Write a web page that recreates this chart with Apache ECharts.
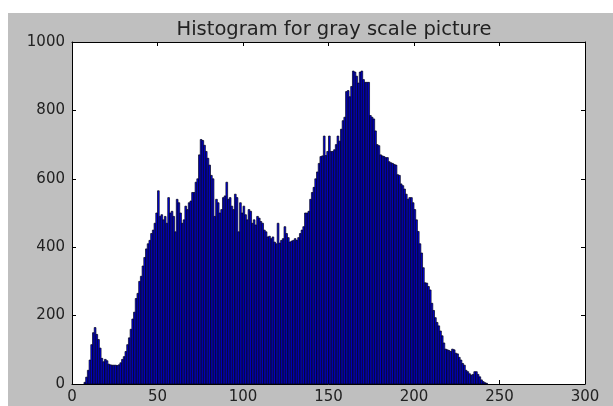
<!DOCTYPE html>
<html>
<head>
<meta charset="utf-8">
<script src="https://cdn.jsdelivr.net/npm/echarts@6/dist/echarts.min.js"></script>
<style>
  html, body { margin: 0; padding: 0; background: #fff; }
  #chart { width: 613px; height: 406px; }
</style>
</head>
<body>
<div id="chart"></div>
<script>
// Histogram counts for gray levels 0..255 (one bin per level)
const counts = [
  0, 0, 0, 0, 0, 0, 0, 5, 20, 40,
  70, 115, 150, 165, 145, 130, 105, 75, 65, 72,
  68, 58, 56, 55, 55, 55, 54, 56, 62, 72,
  80, 95, 115, 135, 160, 190, 210, 250, 265, 300,
  315, 345, 370, 395, 410, 420, 440, 450, 470, 500,
  565, 490, 495, 480, 490, 470, 545, 500, 505, 490,
  445, 540, 530, 500, 470, 480, 520, 510, 530, 535,
  560, 560, 590, 600, 670, 715, 712, 698, 680, 660,
  640, 610, 600, 490, 540, 530, 500, 510, 545, 550,
  590, 540, 545, 520, 510, 555, 545, 445, 530, 500,
  520, 495, 480, 510, 505, 470, 480, 465, 490, 485,
  475, 470, 450, 445, 430, 432, 425, 430, 415, 410,
  470, 412, 420, 425, 460, 440, 428, 415, 418, 420,
  425, 420, 428, 440, 450, 460, 500, 500, 505, 540,
  560, 575, 600, 620, 645, 665, 667, 725, 668, 680,
  725, 680, 680, 685, 700, 725, 710, 745, 770, 780,
  855, 858, 840, 870, 915, 912, 900, 880, 912, 915,
  890, 882, 882, 882, 785, 780, 775, 740, 700, 697,
  670, 667, 665, 662, 662, 650, 647, 645, 642, 640,
  612, 610, 585, 580, 570, 555, 540, 545, 545, 530,
  510, 480, 446, 410, 383, 340, 296, 295, 285, 275,
  236, 215, 194, 180, 170, 155, 141, 120, 102, 100,
  98, 95, 102, 100, 90, 88, 78, 70, 60, 55,
  40, 36, 30, 26, 28, 36, 36, 28, 21, 12,
  7, 4, 2, 0, 0, 0, 0, 0, 0, 0,
  0, 0, 0, 0, 0, 0
];
const binStart = counts.map((_, i) => i);
const xTicks = [0, 50, 100, 150, 200, 250, 300];
const yTicks = [0, 200, 400, 600, 800, 1000];
const titleText = 'Histogram for gray scale picture';

const chart = echarts.init(document.getElementById('chart'), null, { renderer: 'canvas' });

const axisCommon = {
  type: 'value',
  axisLine: { show: true, onZero: false, lineStyle: { color: '#000', width: 1 } },
  axisTick: { show: true, inside: true, length: 4, lineStyle: { color: '#000', width: 1 } },
  splitLine: { show: false },
  axisLabel: { color: '#222', fontFamily: 'DejaVu Sans', fontSize: 15, formatter: v => String(v) }
};

const option = {
  backgroundColor: '#fff',
  animation: false,
  graphic: [{
    type: 'rect', z: -100, silent: true,
    shape: { x: 8, y: 13, width: 605, height: 393 },
    style: { fill: '#bfbfbf' }
  }],
  title: {
    text: titleText,
    left: 329, top: 15, textAlign: 'center',
    textStyle: { fontFamily: 'DejaVu Sans', fontSize: 19.5, fontWeight: 'normal', color: '#222' }
  },
  grid: { left: 72, right: 28, top: 42, bottom: 22, show: true, backgroundColor: '#fff', borderWidth: 0 },
  xAxis: [
    Object.assign({}, axisCommon, {
      position: 'bottom', min: xTicks[0], max: xTicks[xTicks.length - 1], interval: 50,
      axisLabel: Object.assign({}, axisCommon.axisLabel, { margin: 6 })
    }),
    Object.assign({}, axisCommon, {
      position: 'top', min: xTicks[0], max: xTicks[xTicks.length - 1], interval: 50,
      axisLabel: { show: false }
    })
  ],
  yAxis: [
    Object.assign({}, axisCommon, {
      position: 'left', min: yTicks[0], max: yTicks[yTicks.length - 1], interval: 200,
      axisLabel: Object.assign({}, axisCommon.axisLabel, { margin: 7 })
    }),
    Object.assign({}, axisCommon, {
      position: 'right', min: yTicks[0], max: yTicks[yTicks.length - 1], interval: 200,
      axisLabel: { show: false }
    })
  ],
  series: [{
    type: 'custom',
    xAxisIndex: 0, yAxisIndex: 0,
    data: binStart.map((b, i) => [b, counts[i]]),
    encode: { x: 0, y: 1 },
    renderItem: function (params, api) {
      const x0 = api.value(0), v = api.value(1);
      if (!v) return null;
      const p0 = api.coord([x0, v]);
      const p1 = api.coord([x0 + 1, 0]);
      return {
        type: 'rect',
        shape: { x: p0[0], y: p0[1], width: p1[0] - p0[0], height: p1[1] - p0[1] },
        style: { fill: '#0000ee', stroke: '#000010', lineWidth: 0.7 }
      };
    }
  }]
};
chart.setOption(option);
</script>
</body>
</html>
